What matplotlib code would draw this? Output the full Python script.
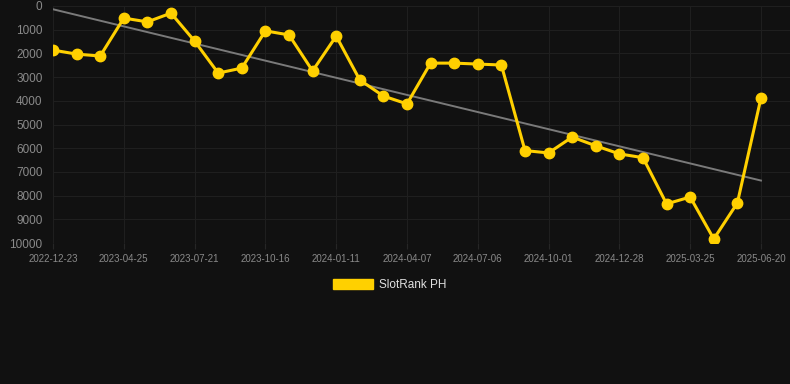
import numpy as np
import matplotlib.pyplot as plt
from matplotlib.patches import Patch

# --- data ---
ranks = [1860, 2030, 2110, 510, 670, 300, 1480, 2830, 2620, 1050,
         1220, 2740, 1270, 3120, 3800, 4130, 2410, 2410, 2450, 2490,
         6100, 6200, 5530, 5900, 6240, 6400, 8350, 8060, 9830, 8310,
         3880]
tick_labels = ['2022-12-23', '2023-04-25', '2023-07-21', '2023-10-16',
               '2024-01-11', '2024-04-07', '2024-07-06', '2024-10-01',
               '2024-12-28', '2025-03-25', '2025-06-20']
y_ticks = [0, 1000, 2000, 3000, 4000, 5000, 6000, 7000, 8000, 9000, 10000]

bg = '#111111'
gold = '#FFD000'
plt.rcParams['font.family'] = ['Liberation Sans', 'DejaVu Sans']

fig = plt.figure(figsize=(7.9, 3.84), dpi=100, facecolor=bg)
ax = fig.add_axes([53 / 790, 1 - 243 / 384, (790 - 53) / 790, (243 - 6) / 384])
ax.set_facecolor(bg)

x = np.arange(len(ranks))
# trend line (least squares on the series)
k, b = np.polyfit(x, ranks, 1)
ax.plot(x, k * x + b, color='#7a7a7a', lw=1.4, zorder=2)

ax.plot(x, ranks, color=gold, lw=2.2, marker='o', ms=7.5,
        markerfacecolor=gold, markeredgecolor=gold, zorder=3)

ax.set_ylim(10000, 0)
ax.set_xlim(0, len(ranks) - 1 + 1.23)
ax.set_yticks(y_ticks)
ax.set_xticks(x[::3])
ax.set_xticklabels(tick_labels)

ax.grid(True, color='#1f1f1f', lw=0.8)
ax.set_axisbelow(True)
for s in ax.spines.values():
    s.set_visible(False)
ax.tick_params(axis='y', colors='#8a8a8a', labelsize=8.5, length=0, pad=7.5)
ax.tick_params(axis='x', colors='#8a8a8a', labelsize=7, length=4, pad=4,
               color='#262626')

handle = Patch(facecolor=gold, edgecolor=gold)
fig.legend([handle], ['SlotRank PH'], loc='center',
           bbox_to_anchor=(390 / 790, 1 - 285 / 384), frameon=False,
           fontsize=8.5, labelcolor='#e0e0e0', handlelength=3.4,
           handleheight=0.95, handletextpad=0.5)

fig.savefig('out.png', dpi=100, facecolor=bg)
